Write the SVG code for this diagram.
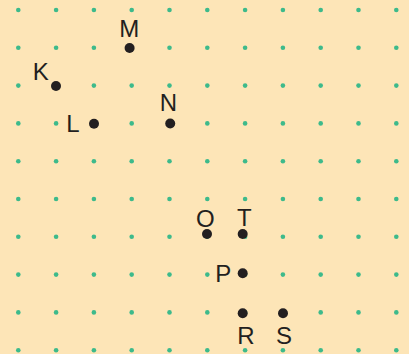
<svg xmlns="http://www.w3.org/2000/svg" xmlns:xlink="http://www.w3.org/1999/xlink" width="409" height="354" viewBox="0 0 409 354">
  <style>
    .g { fill: #3dba8b; }
    .pt { fill: #231f20; }
    .lbl { font-family: "Liberation Sans", Arial, sans-serif; font-size: 24px; fill: #231f20; text-anchor: middle; }
  </style>
  <defs>
    <g id="row">
      <circle class="g" cx="18.3" cy="0" r="2.3"/>
      <circle class="g" cx="56.1" cy="0" r="2.3"/>
      <circle class="g" cx="93.9" cy="0" r="2.3"/>
      <circle class="g" cx="131.7" cy="0" r="2.3"/>
      <circle class="g" cx="169.5" cy="0" r="2.3"/>
      <circle class="g" cx="207.3" cy="0" r="2.3"/>
      <circle class="g" cx="245.1" cy="0" r="2.3"/>
      <circle class="g" cx="282.9" cy="0" r="2.3"/>
      <circle class="g" cx="320.7" cy="0" r="2.3"/>
      <circle class="g" cx="358.5" cy="0" r="2.3"/>
      <circle class="g" cx="396.3" cy="0" r="2.3"/>
    </g>
  </defs>
  <rect x="0" y="0" width="409" height="354" fill="#fde5b7"/>
  <g id="grid">
    <use xlink:href="#row" href="#row" y="10"/>
    <use xlink:href="#row" href="#row" y="47.8"/>
    <use xlink:href="#row" href="#row" y="85.6"/>
    <use xlink:href="#row" href="#row" y="123.4"/>
    <use xlink:href="#row" href="#row" y="161.2"/>
    <use xlink:href="#row" href="#row" y="199"/>
    <use xlink:href="#row" href="#row" y="236.8"/>
    <use xlink:href="#row" href="#row" y="274.6"/>
    <use xlink:href="#row" href="#row" y="312.4"/>
    <use xlink:href="#row" href="#row" y="350.2"/>
  </g>
  <g id="connectors"/>
  <g id="M"><circle class="pt" cx="129.6" cy="48" r="5"/><text class="lbl" x="129.3" y="37.3">M</text></g>
  <g id="K"><circle class="pt" cx="56" cy="86" r="5"/><text class="lbl" x="40.7" y="80">K</text></g>
  <g id="L"><circle class="pt" cx="94" cy="123.7" r="5"/><text class="lbl" x="73" y="131.5">L</text></g>
  <g id="N"><circle class="pt" cx="170.2" cy="123.5" r="5"/><text class="lbl" x="168.5" y="111.3">N</text></g>
  <g id="O"><circle class="pt" cx="207" cy="234" r="5"/><text class="lbl" x="205.3" y="226.5">O</text></g>
  <g id="T"><circle class="pt" cx="242.7" cy="234" r="5"/><text class="lbl" x="244.3" y="226">T</text></g>
  <g id="P"><circle class="pt" cx="242.7" cy="273.3" r="5"/><text class="lbl" x="223.3" y="282">P</text></g>
  <g id="R"><circle class="pt" cx="242.7" cy="313.3" r="5"/><text class="lbl" x="246" y="344">R</text></g>
  <g id="S"><circle class="pt" cx="283" cy="313.3" r="5"/><text class="lbl" x="284" y="344">S</text></g>
</svg>
